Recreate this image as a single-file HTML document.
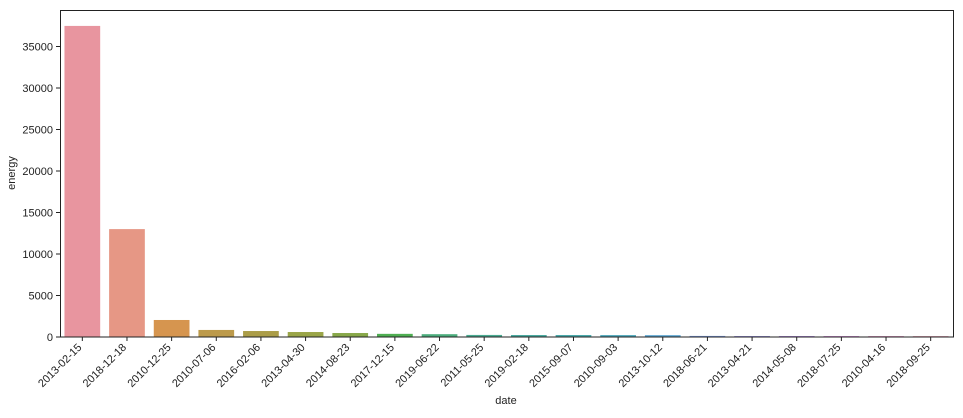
<!DOCTYPE html>
<html><head><meta charset="utf-8"><style>
body{margin:0;background:#fff}
svg text{font-family:"Liberation Sans","DejaVu Sans",sans-serif;font-size:11px;fill:#222}
</style></head><body>
<svg id="chart" width="963" height="413">
<g id="bars"></g>
<g id="xt"></g>
<g id="yt"></g>
<rect x="60.5" y="10.5" width="893" height="326.5" fill="none" stroke="#222" stroke-width="1"/>
<text x="506" y="404" text-anchor="middle">date</text>
<text transform="translate(15,173) rotate(-90)" text-anchor="middle">energy</text>
</svg>
<script>
const categories=["2013-02-15","2018-12-18","2010-12-25","2010-07-06","2016-02-06","2013-04-30","2014-08-23","2017-12-15","2019-06-22","2011-05-25","2019-02-18","2015-09-07","2010-09-03","2013-10-12","2018-06-21","2013-04-21","2014-05-08","2018-07-25","2010-04-16","2018-09-25"];
const values=[37480,13000,2050,850,720,600,480,380,340,250,240,240,230,220,130,120,120,115,110,105];
const yTicks=[0,5000,10000,15000,20000,25000,30000,35000];
const colors=["#e8959f","#e69785","#d6954f","#bc9a4b","#ab9d48","#9aa548","#88a84a","#4fae52","#4cad7d","#4aab91","#4aaa9f","#4aa9ab","#4ba7b9","#56a3cf","#7c9be0","#9c95e0","#b38fdf","#d28ad8","#df8dbd","#e393aa"];
const L=60,R=953,B=337,pxPer=41.5/5000;
const y=v=>B-v*pxPer;
const step=(R-L)/categories.length;
const x=i=>L+step*(i+0.5);
const ns="http://www.w3.org/2000/svg";
const gb=document.getElementById('bars'),gx=document.getElementById('xt'),gy=document.getElementById('yt');
values.forEach((v,i)=>{
 const r=document.createElementNS(ns,'rect');
 r.setAttribute('x',x(i)-step*0.4);r.setAttribute('width',step*0.8);
 r.setAttribute('y',y(v));r.setAttribute('height',B-y(v));r.setAttribute('fill',colors[i]);
 
 
 gb.appendChild(r);
 const t=document.createElementNS(ns,'line');
 t.setAttribute('x1',x(i));t.setAttribute('x2',x(i));t.setAttribute('y1',B);t.setAttribute('y2',B+4);t.setAttribute('stroke','#222');
 
 
 gx.appendChild(t);
 const l=document.createElementNS(ns,'text');
 l.setAttribute('transform',`translate(${x(i)},${B+11}) rotate(-45)`);
 l.setAttribute('text-anchor','end');l.textContent=categories[i];
 
 
 gx.appendChild(l);
});
yTicks.forEach(v=>{
 const t=document.createElementNS(ns,'line');
 t.setAttribute('x1',L-4);t.setAttribute('x2',L);t.setAttribute('y1',y(v));t.setAttribute('y2',y(v));t.setAttribute('stroke','#222');
 
 
 gy.appendChild(t);
 const l=document.createElementNS(ns,'text');
 l.setAttribute('x',L-7);l.setAttribute('y',y(v)+4);l.setAttribute('text-anchor','end');l.textContent=v;
 
 
 gy.appendChild(l);
});
</script>
</body></html>
